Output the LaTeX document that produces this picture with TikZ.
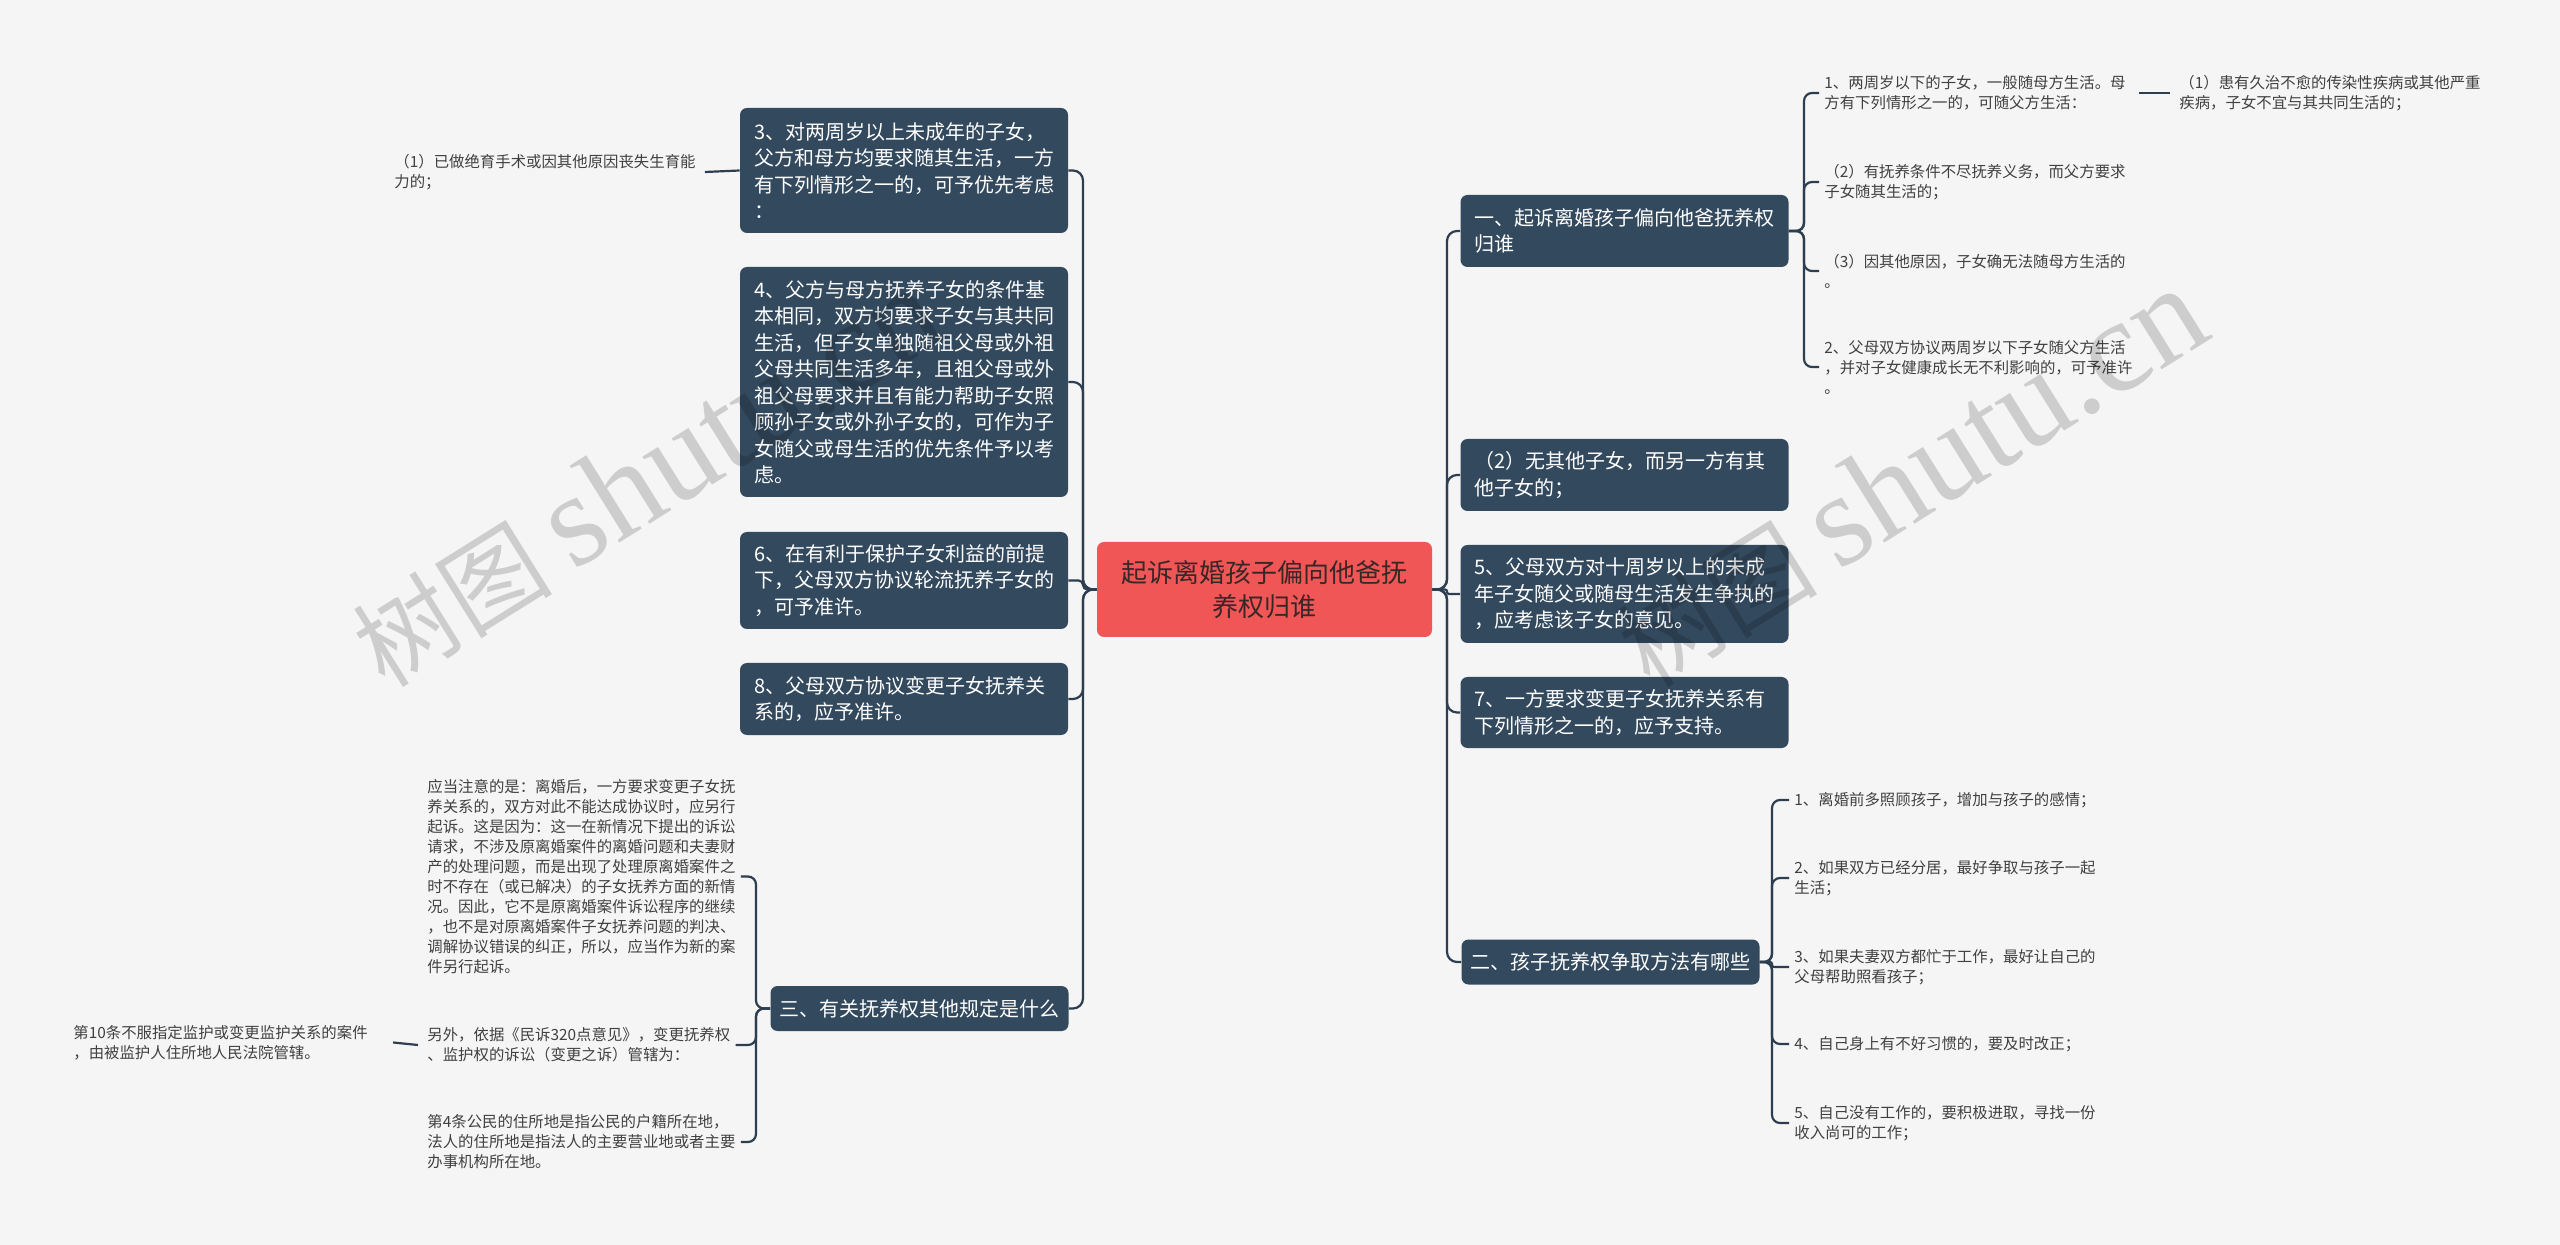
\documentclass[tikz,border=0pt]{standalone}
\usepackage{fontspec}
\setmainfont{Noto Sans CJK SC}
\newfontfamily\wmserif{Liberation Serif}
\setlength{\parindent}{0pt}
\definecolor{bgc}{HTML}{F5F5F5}
\definecolor{boxc}{HTML}{33495E}
\definecolor{redc}{HTML}{F05656}
\definecolor{ctext}{HTML}{3A2626}
\definecolor{linec}{HTML}{2C3E50}
\definecolor{txtc}{HTML}{404040}
\begin{document}
\begin{tikzpicture}[x=0.5pt,y=-0.5pt,
  dbox/.style={fill=boxc, rounded corners=3.5pt, text=white,
    font=\fontsize{10pt}{13.25pt}\selectfont, align=left, text width=150pt,
    inner xsep=7pt, inner ysep=0pt},
  sbox/.style={fill=boxc, rounded corners=3.5pt, text=white,
    font=\fontsize{10pt}{13.25pt}\selectfont, inner xsep=4.5pt, inner ysep=0pt,
    minimum height=22.5pt},
  cbox/.style={fill=redc, rounded corners=3.5pt, text=ctext,
    font=\fontsize{13pt}{17pt}\selectfont, align=center,
    minimum width=167.5pt, minimum height=47.5pt, inner sep=0pt},
  ptext/.style={text=txtc, font=\fontsize{7.7pt}{10pt}\selectfont, align=left,
    inner xsep=2.5pt, inner ysep=0pt},
  conn/.style={draw=linec, line width=1.1pt},
  wmark/.style={text=black, opacity=0.16, rotate=32, anchor=base west, inner sep=0pt}
]
\useasboundingbox (0,0) rectangle (2560,1245);
\fill[bgc] (0,0) rectangle (2560,1245);

% central
\node[cbox] (C) at (1264.5,589.5) {起诉离婚孩子偏向他爸抚\\养权归谁};

% left boxes
\node[dbox, minimum height=62.5pt] (L3) at (904,170.5) {3、对两周岁以上未成年的子女，\\父方和母方均要求随其生活，一方\\有下列情形之一的，可予优先考虑\\：};
\node[dbox, minimum height=115pt] (L4) at (904,382) {4、父方与母方抚养子女的条件基\\本相同，双方均要求子女与其共同\\生活，但子女单独随祖父母或外祖\\父母共同生活多年，且祖父母或外\\祖父母要求并且有能力帮助子女照\\顾孙子女或外孙子女的，可作为子\\女随父或母生活的优先条件予以考\\虑。};
\node[dbox, minimum height=48.5pt] (L6) at (904,580.5) {6、在有利于保护子女利益的前提\\下，父母双方协议轮流抚养子女的\\，可予准许。};
\node[dbox, minimum height=36pt] (L8) at (904,699) {8、父母双方协议变更子女抚养关\\系的，应予准许。};
\node[sbox] (S3) at (919.5,1008.5) {三、有关抚养权其他规定是什么};

% right boxes
\node[dbox, minimum height=36pt] (B1) at (1624.5,231) {一、起诉离婚孩子偏向他爸抚养权\\归谁};
\node[dbox, minimum height=36pt] (B2) at (1624.5,475) {（2）无其他子女，而另一方有其\\他子女的；};
\node[dbox, minimum height=49pt] (B5) at (1624.5,594) {5、父母双方对十周岁以上的未成\\年子女随父或随母生活发生争执的\\，应考虑该子女的意见。};
\node[dbox, minimum height=35.5pt] (B7) at (1624.5,712.5) {7、一方要求变更子女抚养关系有\\下列情形之一的，应予支持。};
\node[sbox] (S2) at (1610.5,962) {二、孩子抚养权争取方法有哪些};

% text leaves of 一
\node[ptext, anchor=west] (T1) at (1819,93) {1、两周岁以下的子女，一般随母方生活。母\\方有下列情形之一的，可随父方生活：};
\node[ptext, anchor=west] (T2) at (1819,182) {（2）有抚养条件不尽抚养义务，而父方要求\\子女随其生活的；};
\node[ptext, anchor=west] (T3) at (1819,271) {（3）因其他原因，子女确无法随母方生活的\\。};
\node[ptext, anchor=west] (T4) at (1819,367) {2、父母双方协议两周岁以下子女随父方生活\\，并对子女健康成长无不利影响的，可予准许\\。};
\node[ptext, anchor=west] (T11) at (2174,93) {（1）患有久治不愈的传染性疾病或其他严重\\疾病，子女不宜与其共同生活的；};

% text leaves of 二
\node[ptext, anchor=west] (R1) at (1789,800) {1、离婚前多照顾孩子，增加与孩子的感情；};
\node[ptext, anchor=west] (R2) at (1789,878) {2、如果双方已经分居，最好争取与孩子一起\\生活；};
\node[ptext, anchor=west] (R3) at (1789,967) {3、如果夫妻双方都忙于工作，最好让自己的\\父母帮助照看孩子；};
\node[ptext, anchor=west] (R4) at (1789,1044) {4、自己身上有不好习惯的，要及时改正；};
\node[ptext, anchor=west] (R5) at (1789,1123) {5、自己没有工作的，要积极进取，寻找一份\\收入尚可的工作；};

% text leaves of 三
\node[ptext, anchor=west] (N1) at (422,876.5) {应当注意的是：离婚后，一方要求变更子女抚\\养关系的，双方对此不能达成协议时，应另行\\起诉。这是因为：这一在新情况下提出的诉讼\\请求，不涉及原离婚案件的离婚问题和夫妻财\\产的处理问题，而是出现了处理原离婚案件之\\时不存在（或已解决）的子女抚养方面的新情\\况。因此，它不是原离婚案件诉讼程序的继续\\，也不是对原离婚案件子女抚养问题的判决、\\调解协议错误的纠正，所以，应当作为新的案\\件另行起诉。};
\node[ptext, anchor=west] (N2) at (422,1045) {另外，依据《民诉320点意见》，变更抚养权\\、监护权的诉讼（变更之诉）管辖为：};
\node[ptext, anchor=west] (N3) at (422,1142) {第4条公民的住所地是指公民的户籍所在地，\\法人的住所地是指法人的主要营业地或者主要\\办事机构所在地。};
\node[ptext, anchor=west] (N21) at (68,1042.5) {第10条不服指定监护或变更监护关系的案件\\，由被监护人住所地人民法院管辖。};

% leaf of 3
\node[ptext, anchor=west] (L3c) at (389,172) {（1）已做绝育手术或因其他原因丧失生育能\\力的；};

% spine coordinates
\coordinate (sL) at (1083,589.5);
\coordinate (sR) at (1447,589.5);
\coordinate (s1) at (1804,231);
\coordinate (s2) at (1772,962);
\coordinate (s3) at (756,1008.5);

% left connectors
\draw[conn, rounded corners=5pt] (C.west) -- (sL) |- (L3.east);
\draw[conn, rounded corners=5pt] (C.west) -- (sL) |- (L4.east);
\draw[conn, rounded corners=2.2pt] (C.west) -- (sL) |- (L6.east);
\draw[conn, rounded corners=5pt] (C.west) -- (sL) |- (L8.east);
\draw[conn, rounded corners=5pt] (C.west) -- (sL) |- (S3.east);

% right connectors
\draw[conn, rounded corners=5pt] (C.east) -- (sR) |- (B1.west);
\draw[conn, rounded corners=5pt] (C.east) -- (sR) |- (B2.west);
\draw[conn, rounded corners=1pt] (C.east) -- (sR) |- (B5.west);
\draw[conn, rounded corners=5pt] (C.east) -- (sR) |- (B7.west);
\draw[conn, rounded corners=5pt] (C.east) -- (sR) |- (S2.west);

% 一 connectors
\draw[conn, rounded corners=4pt] (B1.east) -- (s1) |- (T1.west);
\draw[conn, rounded corners=4pt] (B1.east) -- (s1) |- (T2.west);
\draw[conn, rounded corners=4pt] (B1.east) -- (s1) |- (T3.west);
\draw[conn, rounded corners=4pt] (B1.east) -- (s1) |- (T4.west);
\draw[conn] ([xshift=4pt]T1.east) -- ([xshift=-2pt]T11.west);

% 二 connectors
\draw[conn, rounded corners=4pt] (S2.east) -- (s2) |- (R1.west);
\draw[conn, rounded corners=4pt] (S2.east) -- (s2) |- (R2.west);
\draw[conn, rounded corners=1pt] (S2.east) -- (s2) |- (R3.west);
\draw[conn, rounded corners=4pt] (S2.east) -- (s2) |- (R4.west);
\draw[conn, rounded corners=4pt] (S2.east) -- (s2) |- (R5.west);

% 三 connectors
\draw[conn, rounded corners=4pt] (S3.west) -- (s3) |- (N1.east);
\draw[conn, rounded corners=4pt] (S3.west) -- (s3) |- (N2.east);
\draw[conn, rounded corners=4pt] (S3.west) -- (s3) |- (N3.east);
\draw[conn] ([xshift=-2pt]N2.west) -- ([xshift=10pt]N21.east);

% leaf of 3 connector
\draw[conn] (L3.west) -- ([xshift=2pt]L3c.east);

% watermarks
\node[wmark] (W1) at (385,690) {\fontsize{50pt}{50pt}\selectfont 树图 {\wmserif\fontsize{66pt}{66pt}\selectfont shutu.cn}};
\node[wmark] (W2) at (1650,690) {\fontsize{50pt}{50pt}\selectfont 树图 {\wmserif\fontsize{66pt}{66pt}\selectfont shutu.cn}};
\end{tikzpicture}
\end{document}
